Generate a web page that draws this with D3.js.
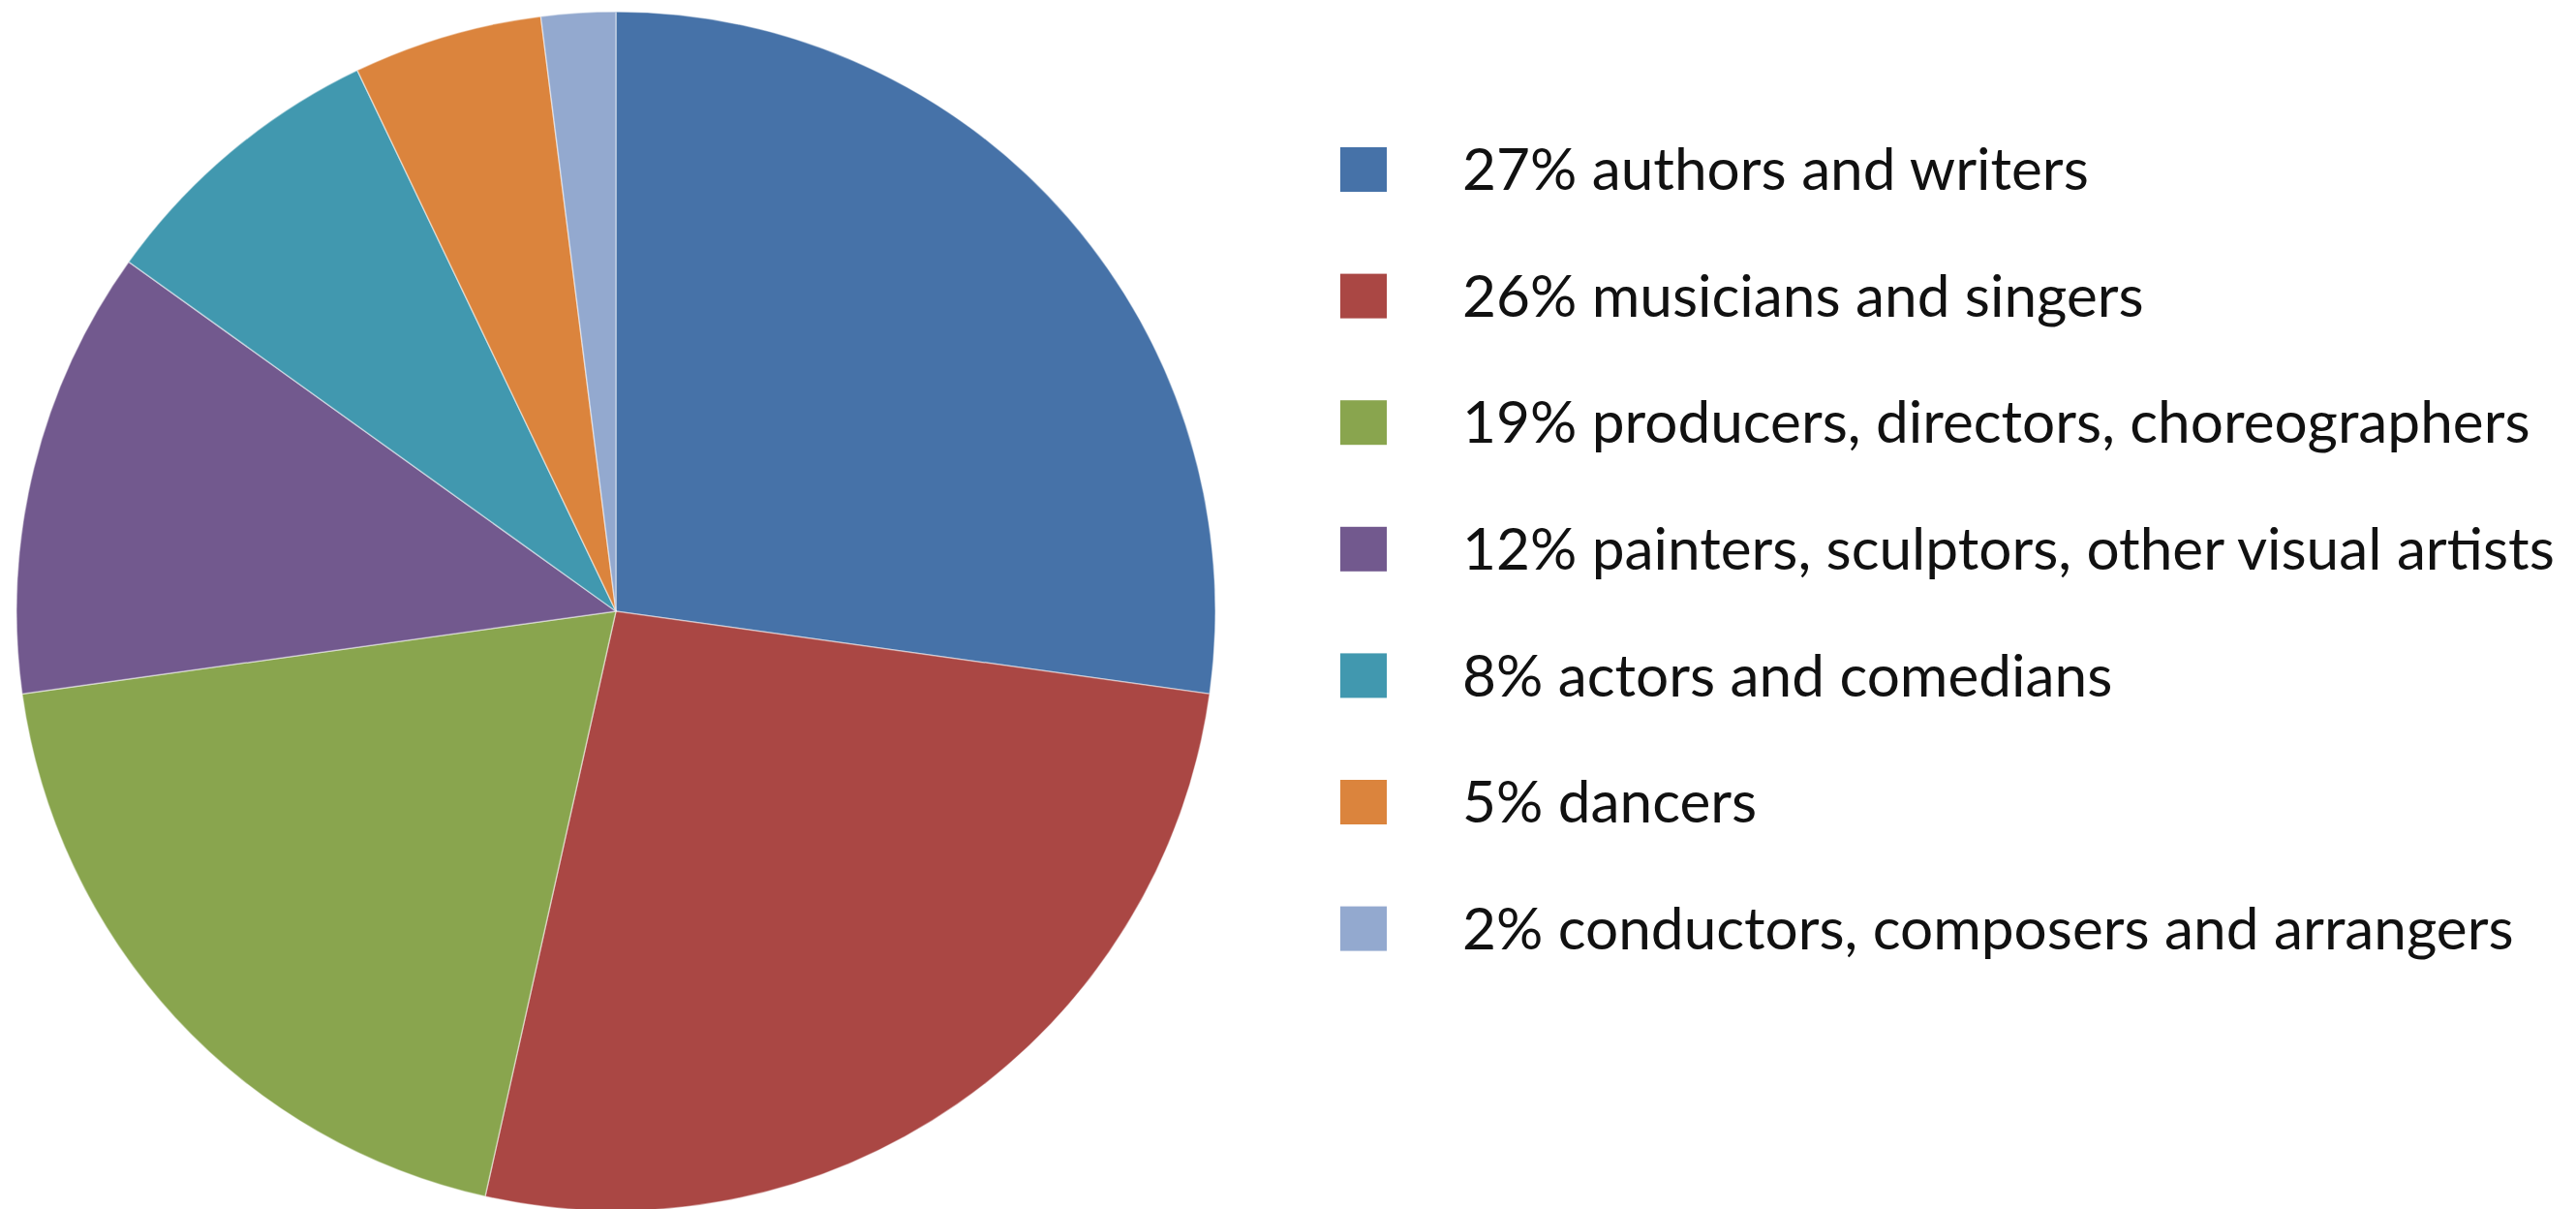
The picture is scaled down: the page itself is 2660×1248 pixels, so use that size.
<!DOCTYPE html>
<html>
<head>
<meta charset="utf-8">
<script src="https://cdn.jsdelivr.net/npm/d3@7"></script>
<style>
  html, body { margin: 0; padding: 0; background: #fff; }
  svg { display: block; }
</style>
</head>
<body>
<div id="chart"></div>
<script>
// categories and shares
const categories = [
  "authors and writers",
  "musicians and singers",
  "producers, directors, choreographers",
  "painters, sculptors, other visual artists",
  "actors and comedians",
  "dancers",
  "conductors, composers and arrangers"
];
const values = [27.2, 26.3, 19.3, 12.1, 8.0, 5.1, 2.0];
const pctLabels = ["27%", "26%", "19%", "12%", "8%", "5%", "2%"];
const colors = ["#4672A8", "#AA4744", "#89A54E", "#72598E", "#4198AF", "#DB843D", "#93A9CF"];

const W = 2660, H = 1248;
const cx = 636, cy = 631, R = 619;

const svg = d3.select("#chart").append("svg")
  .attr("width", W)
  .attr("height", H);

const data = categories.map((c, i) => ({ name: c, value: values[i], label: pctLabels[i], color: colors[i] }));

const pie = d3.pie().value(d => d.value).sort(null);
const arc = d3.arc().innerRadius(0).outerRadius(R);

svg.append("g")
  .attr("transform", `translate(${cx},${cy})`)
  .selectAll("path")
  .data(pie(data))
  .join("path")
  .attr("d", arc)
  .attr("fill", d => d.data.color)
  .attr("stroke", "rgba(255,255,255,0.45)")
  .attr("stroke-width", 1.5);

// legend
const legX = 1384, legY0 = 175, legStep = 130.6, sq = 46, textX = 1510;
const color = d3.scaleOrdinal().domain(categories).range(colors);

const leg = svg.append("g").selectAll("g")
  .data(data)
  .join("g")
  .attr("transform", (d, i) => `translate(0,${legY0 + i * legStep})`);

leg.append("rect")
  .attr("x", legX)
  .attr("y", -sq / 2)
  .attr("width", 48)
  .attr("height", sq)
  .attr("fill", d => color(d.name));

const txt = leg.append("text")
  .attr("x", textX)
  .attr("y", 0)
  .attr("dy", "0.35em")
  .attr("fill", "#111")
  .style("font-family", "Lato, 'Open Sans', sans-serif")
  .style("font-size", "52px")
  .text(d => `${d.label} ${d.name}`);

// fit widest label to reference width (~1128px)
let maxW = 0;
txt.each(function () { maxW = Math.max(maxW, this.getComputedTextLength()); });
const fs = 52 * 1128 / maxW;
txt.style("font-size", fs + "px");
</script>
</body>
</html>
